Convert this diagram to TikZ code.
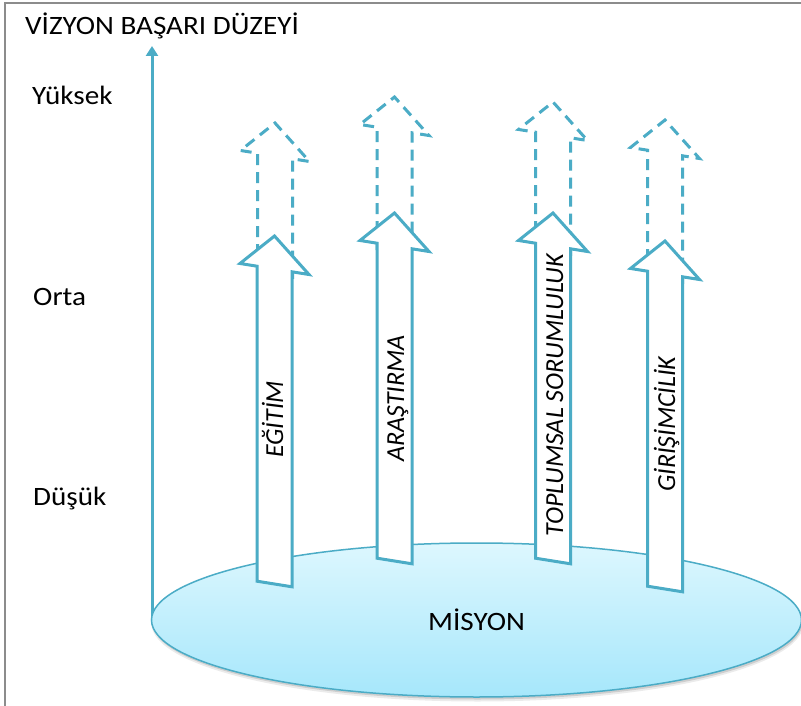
\documentclass[tikz,border=0pt]{standalone}
\usepackage{fontspec}
\setmainfont{Carlito}
\usetikzlibrary{arrows.meta}
\definecolor{ablue}{HTML}{4BACC6}
\definecolor{frameg}{HTML}{8C8C8C}
\definecolor{elltop}{HTML}{DDF7FE}
\definecolor{ellbot}{HTML}{A6E7FB}
\newcommand\SolidArrow[2]{%
  \draw[solidarr] (#1,#2) -- ({#1+34.5},{#2+38.52}) -- ({#1+17.5},{#2+35.8})
    -- ({#1+17.5},{#2+350.8}) -- ({#1-17.5},{#2+345.2}) -- ({#1-17.5},{#2+30.2})
    -- ({#1-34.5},{#2+27.48}) -- cycle;}
\newcommand\DashArrow[3]{%
  \draw[dasharr] ({#1-17.5},{#2+#3-2.8}) -- ({#1-17.5},{#2+30.2}) -- ({#1-34.5},{#2+27.48})
    -- (#1,#2) -- ({#1+34.5},{#2+38.52}) -- ({#1+17.5},{#2+35.8}) -- ({#1+17.5},{#2+#3+2.8});}
\begin{document}
\begin{tikzpicture}[x=1pt,y=-1pt,
  lbl/.style={font=\fontsize{26.5}{30}\selectfont, inner sep=0, anchor=base west, xscale=1.1},
  vlbl/.style={font=\fontsize{26}{30}\selectfont\itshape, inner sep=0, anchor=base west, rotate=90},
  solidarr/.style={draw=ablue, line width=3pt, fill=white, line join=miter},
  dasharr/.style={draw=ablue, line width=3pt, dash pattern=on 11pt off 7pt},
  axisline/.style={draw=ablue, line width=3pt, -{Triangle[width=12pt,length=10pt]}}]
\clip (0,0) rectangle (801,706);
\fill[white] (0,0) rectangle (801,706);
% frame
\draw[frameg, line width=1.4pt] (5,706) -- (5,3) -- (801,3);
% axis
\coordinate (axbot) at (152,618);
\coordinate (axtop) at (152,46);
\draw[axisline] (axbot) -- (axtop);
% ellipse shadow
\fill[black, opacity=0.08] (477.5,623.5) ellipse [x radius=326, y radius=78];
\fill[black, opacity=0.12] (477.5,622.5) ellipse [x radius=325, y radius=77];
% ellipse
\path[draw=ablue, line width=1.5pt, top color=elltop, bottom color=ellbot]
  (476.5,620) ellipse [x radius=325, y radius=77];
\node[lbl, xscale=1.0] (misyon) at (428,630) {MİSYON};
% dashed arrows
\DashArrow{275}{123}{153}
\DashArrow{394.5}{97}{156}
\DashArrow{553}{102}{151}
\DashArrow{665}{120}{161}
% solid arrows
\SolidArrow{274.5}{236}
\SolidArrow{394.5}{213}
\SolidArrow{553}{213}
\SolidArrow{665}{241}
% labels
\node[lbl] (title) at (25,35) {VİZYON BAŞARI DÜZEYİ};
\node[lbl] (yuksek) at (32,105) {Yüksek};
\node[lbl] (orta) at (33,305) {Orta};
\node[lbl] (dusuk) at (33,505) {Düşük};
\node[vlbl] (egitim) at (283,458) {EĞİTİM};
\node[vlbl] (arastirma) at (404,462) {ARAŞTIRMA};
\node[vlbl] (toplumsal) at (563,537) {TOPLUMSAL SORUMLULUK};
\node[vlbl] (girisim) at (675,492) {GİRİŞİMCİLİK};
\end{tikzpicture}
\end{document}
